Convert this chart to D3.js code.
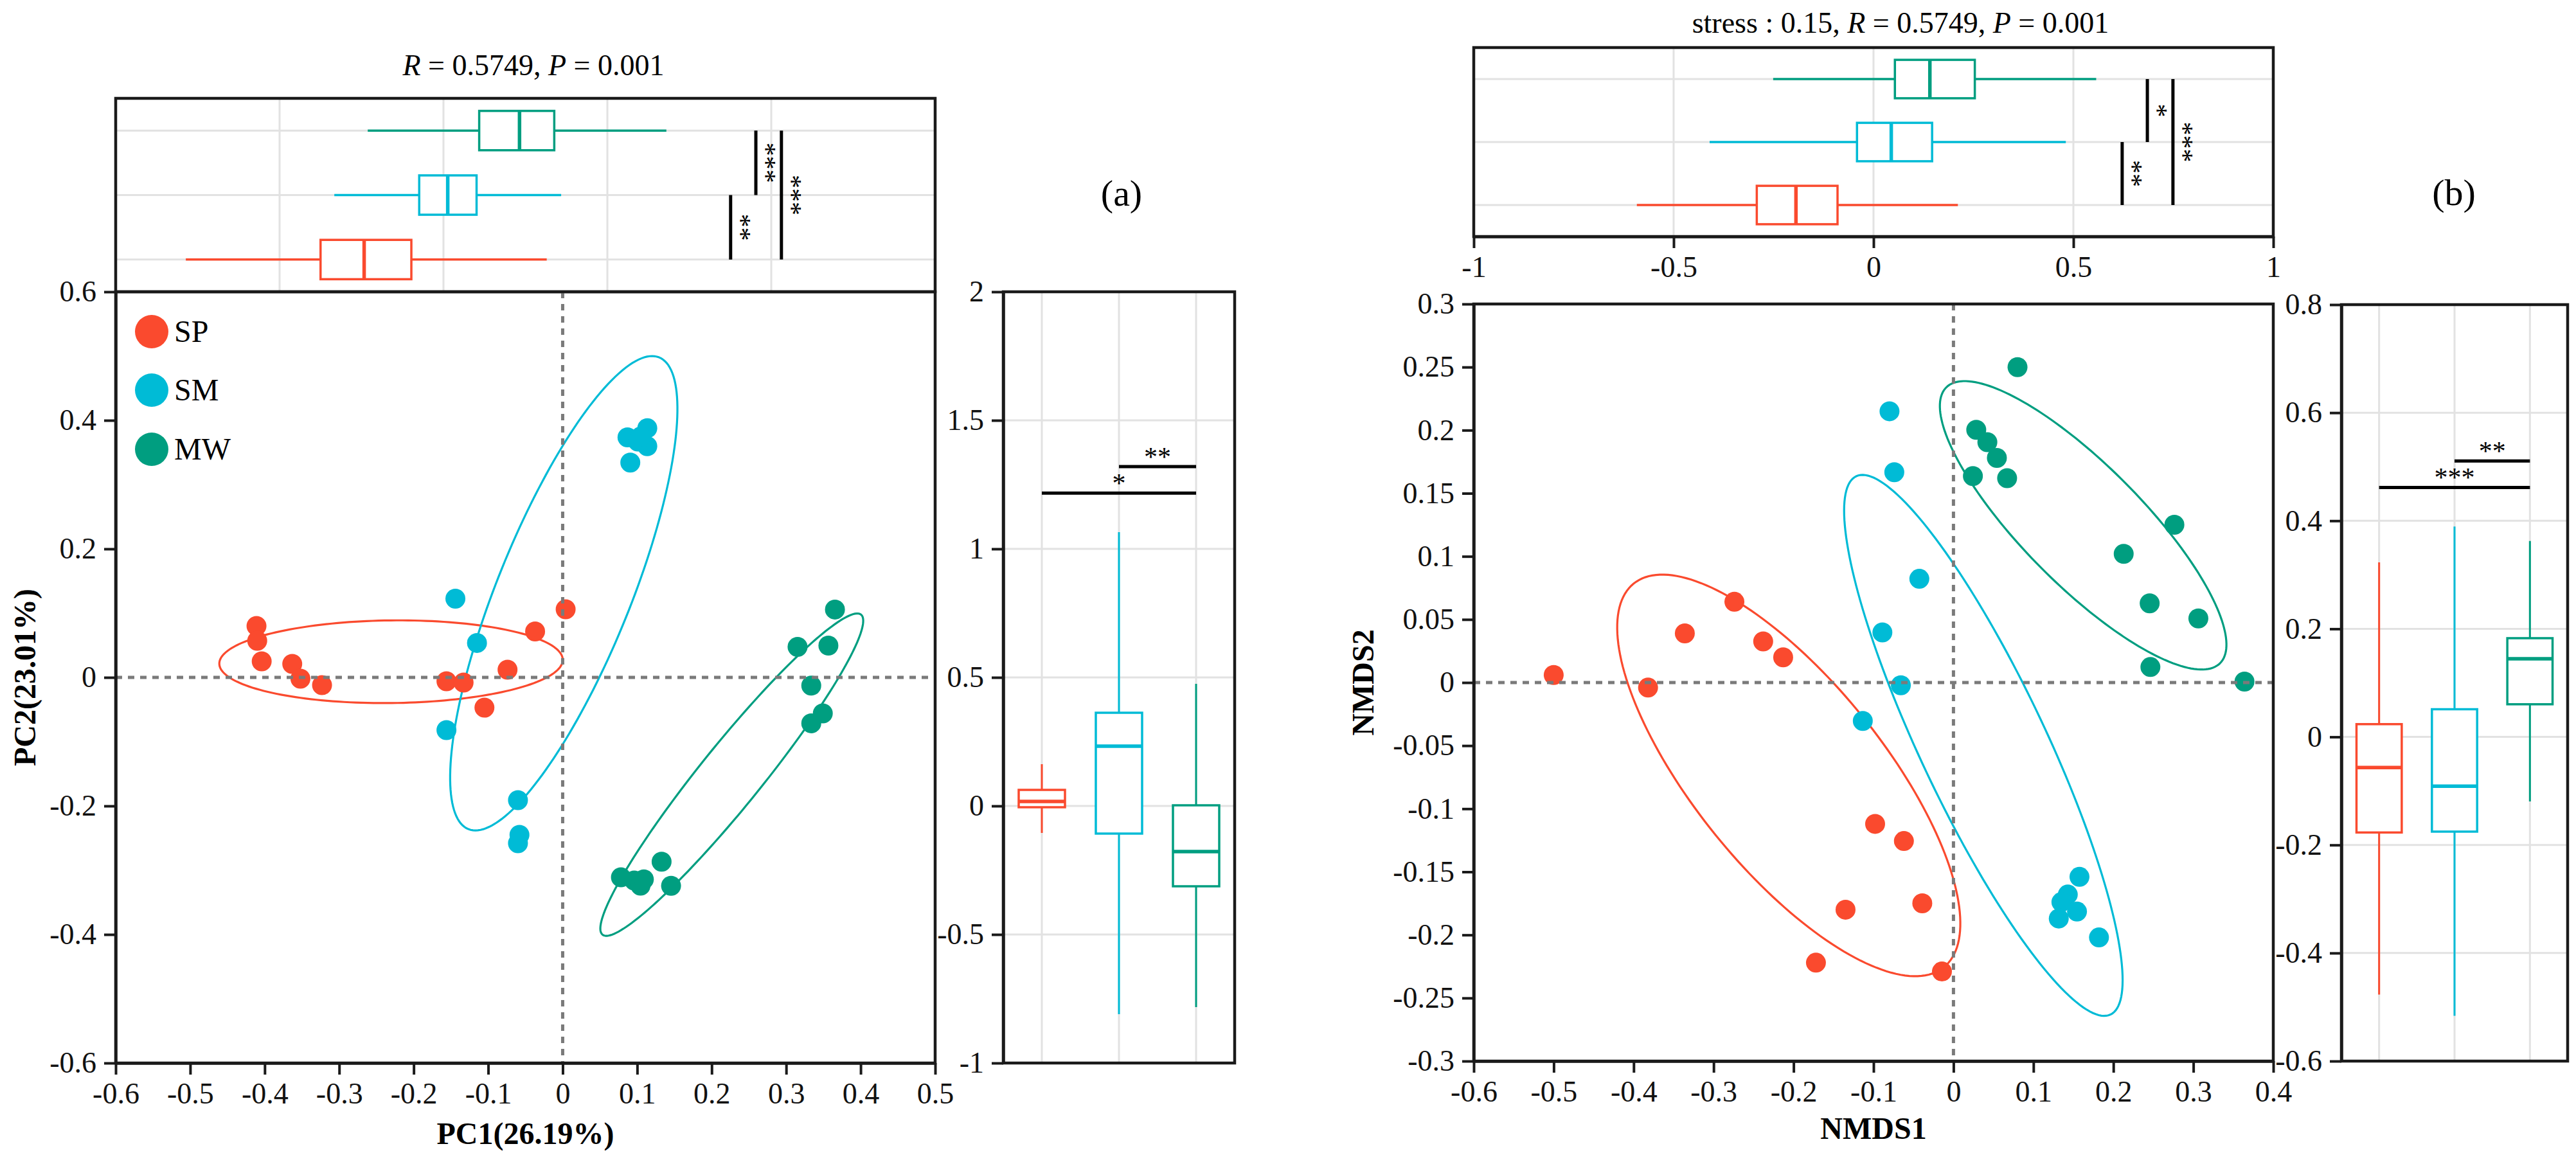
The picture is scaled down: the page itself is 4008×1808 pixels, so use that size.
<!DOCTYPE html>
<html><head><meta charset="utf-8">
<script src="https://cdn.jsdelivr.net/npm/d3@7"></script>
<style>body{margin:0;background:#fff} svg text{font-family:'Liberation Serif','Times New Roman',Times,serif}</style>
</head><body>
<svg id="chart" width="4008" height="1808"></svg>
<script>
// ---------------- DATA ----------------
const groups = ["SP", "SM", "MW"];
const groupColors = ["#FA4A2E", "#00BBD6", "#009E80"];
const rowOrder = ["MW", "SM", "SP"];

// Panel (a): PCoA scores
const pcoaSP = [[-0.411,0.080],[-0.410,0.057],[-0.404,0.025],[-0.363,0.021],[-0.352,-0.002],[-0.323,-0.012],[-0.156,-0.006],[-0.133,-0.008],[-0.105,-0.047],[-0.074,0.012],[-0.037,0.0715],[0.004,0.106]];
const pcoaSM = [[-0.144,0.1225],[-0.115,0.0536],[-0.156,-0.082],[-0.060,-0.191],[-0.058,-0.245],[-0.060,-0.258],[0.087,0.3735],[0.1136,0.3878],[0.1136,0.3597],[0.0908,0.3342],[0.101,0.367],[0.105,0.375]];
const pcoaMW = [[0.3655,0.1056],[0.3153,0.0475],[0.3567,0.0495],[0.3337,-0.0127],[0.3492,-0.056],[0.3337,-0.0714],[0.0782,-0.311],[0.096,-0.316],[0.1045,-0.324],[0.109,-0.3143],[0.1328,-0.2867],[0.1455,-0.3243]];
// ellipses: centre, two conjugate semi-axis vectors (data units)
const pcoaEllSP = {c:[-0.2304,0.0244], u:[0.2305,0.0031], v:[-0.0007,0.0643]};
const pcoaEllSM = {c:[0.0015,0.1309], u:[0.128,0.367], v:[0.083,-0.0388]};
const pcoaEllMW = {c:[0.227,-0.1513], u:[0.1735,0.249], v:[0.0321,-0.030]};
// box stats [min, q1, median, q3, max]
const pcoaTopSP = [-0.786,-0.375,-0.242,-0.098,0.315];
const pcoaTopSM = [-0.333,-0.074,0.013,0.101,0.359];
const pcoaTopMW = [-0.231,0.109,0.232,0.338,0.680];
const pcoaRightSP = [-0.105,-0.005,0.0175,0.0625,0.1625];
const pcoaRightSM = [-0.81,-0.1075,0.2325,0.3625,1.065];
const pcoaRightMW = [-0.7825,-0.3125,-0.1775,0.0025,0.475];
const pcoaTopSig = [["MW","SM",0.953,"***"],["SM","SP",0.876,"**"],["MW","SP",1.031,"***"]];
const pcoaRightSig = [["SM","MW",1.32,"**"],["SP","MW",1.217,"*"]];
const pcoaXTicks = [-0.6,-0.5,-0.4,-0.3,-0.2,-0.1,0,0.1,0.2,0.3,0.4,0.5];
const pcoaYTicks = [-0.6,-0.4,-0.2,0,0.2,0.4,0.6];
const pcoaTopGrid = [-0.5,0,0.5,1];
const pcoaRightTicks = [-1,-0.5,0,0.5,1,1.5,2];

// Panel (b): NMDS scores
const nmdsSP = [[-0.5,0.006],[-0.382,-0.004],[-0.336,0.039],[-0.274,0.064],[-0.238,0.0326],[-0.213,0.020],[-0.098,-0.112],[-0.062,-0.1256],[-0.135,-0.180],[-0.172,-0.222],[-0.039,-0.175],[-0.0144,-0.229]];
const nmdsSM = [[-0.080,0.215],[-0.074,0.1667],[-0.0427,0.0822],[-0.0889,0.0397],[-0.0658,-0.0022],[-0.1134,-0.0304],[0.1576,-0.154],[0.143,-0.168],[0.135,-0.174],[0.1545,-0.1815],[0.1317,-0.187],[0.182,-0.202]];
const nmdsMW = [[0.0801,0.250],[0.0285,0.2003],[0.0424,0.1905],[0.0543,0.178],[0.0243,0.1636],[0.0671,0.162],[0.2763,0.125],[0.2129,0.102],[0.2454,0.0628],[0.3063,0.0508],[0.2463,0.0123],[0.364,0.0008]];
const nmdsEllSP = {c:[-0.206,-0.0736], u:[0.194,-0.152], v:[-0.0917,-0.0471]};
const nmdsEllSM = {c:[0.0374,-0.0498], u:[0.159,-0.2133], v:[-0.0711,-0.0213]};
const nmdsEllMW = {c:[0.1622,0.1246], u:[0.1712,-0.1093], v:[-0.053,-0.0334]};
const nmdsTopSP = [-0.592,-0.292,-0.194,-0.09,0.211];
const nmdsTopSM = [-0.41,-0.0413,0.0444,0.1466,0.481];
const nmdsTopMW = [-0.251,0.0535,0.141,0.2534,0.557];
const nmdsRightSP = [-0.477,-0.1769,-0.0567,0.0236,0.3229];
const nmdsRightSM = [-0.516,-0.1753,-0.0912,0.0512,0.3894];
const nmdsRightMW = [-0.1195,0.0604,0.1445,0.1827,0.3626];
const nmdsTopSig = [["SM","SP",0.622,"**"],["MW","SM",0.685,"*"],["MW","SP",0.749,"***"]];
const nmdsRightSig = [["SM","MW",0.5107,"**"],["SP","MW",0.4617,"***"]];
const nmdsXTicks = [-0.6,-0.5,-0.4,-0.3,-0.2,-0.1,0,0.1,0.2,0.3,0.4];
const nmdsYTicks = [-0.3,-0.25,-0.2,-0.15,-0.1,-0.05,0,0.05,0.1,0.15,0.2,0.25,0.3];
const nmdsTopTicks = [-1,-0.5,0,0.5,1];
const nmdsTopGrid = [-0.5,0,0.5];
const nmdsRightTicks = [-0.6,-0.4,-0.2,0,0.2,0.4,0.6,0.8];

// ---------------- DRAWING ----------------
const FONT = "'Liberation Serif','Times New Roman',Times,serif";
const svg = d3.select("#chart");
const color = d3.scaleOrdinal().domain(groups).range(groupColors);
const fmt = d => String(+(+d).toFixed(2));
const INK = "#1a1a1a", GRID = "#e2e2e2";

function styleAxis(g){
  g.attr("font-family", FONT).attr("font-size", 46);
  g.select(".domain").attr("stroke", INK).attr("stroke-width", 4.5);
  g.selectAll(".tick line").attr("stroke", INK).attr("stroke-width", 4);
  g.selectAll(".tick text").attr("font-family", FONT).attr("font-size", 46).attr("fill", "#111");
}
function frame(x0,y0,x1,y1){
  svg.append("rect").attr("x",x0).attr("y",y0).attr("width",x1-x0).attr("height",y1-y0)
    .attr("fill","none").attr("stroke",INK).attr("stroke-width",4.5);
}
function ellipsePath(e, xs, ys){
  const pts = d3.range(0, 361, 2).map(a => {
    const t = a*Math.PI/180;
    return [xs(e.c[0] + e.u[0]*Math.cos(t) + e.v[0]*Math.sin(t)),
            ys(e.c[1] + e.u[1]*Math.cos(t) + e.v[1]*Math.sin(t))];
  });
  return d3.line().curve(d3.curveLinearClosed)(pts);
}
function hBox(g, s, yc, h, xs, col){
  g.append("line").attr("x1",xs(s[0])).attr("x2",xs(s[4])).attr("y1",yc).attr("y2",yc)
    .attr("stroke",col).attr("stroke-width",3.5);
  g.append("rect").attr("x",xs(s[1])).attr("width",xs(s[3])-xs(s[1])).attr("y",yc-h/2).attr("height",h)
    .attr("fill","#fff").attr("stroke",col).attr("stroke-width",3.5);
  g.append("line").attr("x1",xs(s[2])).attr("x2",xs(s[2])).attr("y1",yc-h/2).attr("y2",yc+h/2)
    .attr("stroke",col).attr("stroke-width",5.5);
}
function vBox(g, s, xc, w, ys, col){
  g.append("line").attr("y1",ys(s[0])).attr("y2",ys(s[4])).attr("x1",xc).attr("x2",xc)
    .attr("stroke",col).attr("stroke-width",3);
  g.append("rect").attr("y",ys(s[3])).attr("height",ys(s[1])-ys(s[3])).attr("x",xc-w/2).attr("width",w)
    .attr("fill","#fff").attr("stroke",col).attr("stroke-width",3.5);
  g.append("line").attr("y1",ys(s[2])).attr("y2",ys(s[2])).attr("x1",xc-w/2).attr("x2",xc+w/2)
    .attr("stroke",col).attr("stroke-width",5.5);
}
function topSig(g, sig, xs, rows){
  sig.forEach(([a,b,pos,lab]) => {
    const ya = rows(a)+rows.bandwidth()/2, yb = rows(b)+rows.bandwidth()/2, x = xs(pos);
    g.append("line").attr("x1",x).attr("x2",x).attr("y1",ya).attr("y2",yb).attr("stroke","#000").attr("stroke-width",5);
    g.append("text").attr("transform",`translate(${x+2},${(ya+yb)/2}) rotate(90)`)
      .attr("text-anchor","middle").attr("font-family",FONT).attr("font-size",42).text(lab);
  });
}
function rightSig(g, sig, xs, ys){
  sig.forEach(([a,b,val,lab]) => {
    const y = ys(val), x1 = xs(a), x2 = xs(b);
    g.append("line").attr("x1",x1).attr("x2",x2).attr("y1",y).attr("y2",y).attr("stroke","#000").attr("stroke-width",5);
    g.append("text").attr("x",(x1+x2)/2).attr("y",y-1).attr("text-anchor","middle")
      .attr("font-family",FONT).attr("font-size",42).text(lab);
  });
}
function dashed(x1,y1,x2,y2){
  svg.append("line").attr("x1",x1).attr("y1",y1).attr("x2",x2).attr("y2",y2)
    .attr("stroke","#7a7a7a").attr("stroke-width",5).attr("stroke-dasharray","10,9");
}
function panel(cfg){
  const {xs, ys, tx, rows, ry, rx, pts, ells, topStats, rightStats, topSigs, rightSigs,
         xTicks, yTicks, topGrid, topTicks, rightTicks, title, titleX, titleY, tag, tagX, tagY,
         xLabel, yLabel, xLabelY, yLabelX} = cfg;
  const g = svg.append("g");
  // --- top box panel
  const [tx0, tx1] = tx.range(), [ty0, ty1] = rows.range();
  topGrid.forEach(v => g.append("line").attr("x1",tx(v)).attr("x2",tx(v)).attr("y1",ty0).attr("y2",ty1).attr("stroke",GRID).attr("stroke-width",3));
  rowOrder.forEach(r => { const yc = rows(r)+rows.bandwidth()/2;
    g.append("line").attr("x1",tx0).attr("x2",tx1).attr("y1",yc).attr("y2",yc).attr("stroke",GRID).attr("stroke-width",3); });
  rowOrder.forEach(r => hBox(g, topStats[r], rows(r)+rows.bandwidth()/2, rows.bandwidth()*0.61, tx, color(r)));
  topSig(g, topSigs, tx, rows);
  frame(tx0, ty0, tx1, ty1);
  if (topTicks) {
    const ax = svg.append("g").attr("transform",`translate(0,${ty1})`)
      .call(d3.axisBottom(tx).tickValues(topTicks).tickFormat(fmt).tickSize(18).tickSizeOuter(0).tickPadding(12));
    styleAxis(ax);
  }
  // --- right box panel
  const [rx0, rx1] = [rx.range()[0], rx.range()[1]], [ry1, ry0] = ry.range();
  rightTicks.forEach(v => g.append("line").attr("x1",rx0).attr("x2",rx1).attr("y1",ry(v)).attr("y2",ry(v)).attr("stroke",GRID).attr("stroke-width",3));
  groups.forEach(gr => g.append("line").attr("x1",rx(gr)).attr("x2",rx(gr)).attr("y1",ry0).attr("y2",ry1).attr("stroke",GRID).attr("stroke-width",3));
  groups.forEach(gr => vBox(g, rightStats[gr], rx(gr), rx.step()*0.6, ry, color(gr)));
  rightSig(g, rightSigs, rx, ry);
  frame(rx0, ry0, rx1, ry1);
  const ayr = svg.append("g").attr("transform",`translate(${rx0},0)`)
    .call(d3.axisLeft(ry).tickValues(rightTicks).tickFormat(fmt).tickSize(18).tickSizeOuter(0).tickPadding(12));
  styleAxis(ayr);
  // --- scatter
  const [sx0, sx1] = xs.range(), [sy1, sy0] = ys.range();
  dashed(xs(0), sy0, xs(0), sy1);
  dashed(sx0, ys(0), sx1, ys(0));
  groups.forEach(gr => g.append("path").attr("d", ellipsePath(ells[gr], xs, ys))
    .attr("fill","none").attr("stroke",color(gr)).attr("stroke-width",3.2));
  groups.forEach(gr => g.selectAll(null).data(pts[gr]).enter().append("circle")
    .attr("cx", d => xs(d[0])).attr("cy", d => ys(d[1])).attr("r", 15.5).attr("fill", color(gr)));
  frame(sx0, sy0, sx1, sy1);
  const axx = svg.append("g").attr("transform",`translate(0,${sy1})`)
    .call(d3.axisBottom(xs).tickValues(xTicks).tickFormat(fmt).tickSize(18).tickSizeOuter(0).tickPadding(12));
  styleAxis(axx);
  const axy = svg.append("g").attr("transform",`translate(${sx0},0)`)
    .call(d3.axisLeft(ys).tickValues(yTicks).tickFormat(fmt).tickSize(18).tickSizeOuter(0).tickPadding(12));
  styleAxis(axy);
  // labels
  svg.append("text").attr("x",(sx0+sx1)/2).attr("y",xLabelY).attr("text-anchor","middle")
    .attr("font-family",FONT).attr("font-size",48).attr("font-weight","bold").text(xLabel);
  svg.append("text").attr("transform",`translate(${yLabelX},${(sy0+sy1)/2}) rotate(-90)`).attr("text-anchor","middle")
    .attr("font-family",FONT).attr("font-size",48).attr("font-weight","bold").text(yLabel);
  const tt = svg.append("text").attr("x",titleX).attr("y",titleY).attr("text-anchor","middle")
    .attr("font-family",FONT).attr("font-size",46);
  title.forEach(([s, it]) => tt.append("tspan").attr("font-style", it ? "italic" : "normal").text(s));
  svg.append("text").attr("x",tagX).attr("y",tagY).attr("text-anchor","middle").attr("dominant-baseline","central")
    .attr("font-family",FONT).attr("font-size",58).text(tag);
}

// Panel (a)
panel({
  xs: d3.scaleLinear().domain([-0.6,0.5]).range([180,1455]),
  ys: d3.scaleLinear().domain([-0.6,0.6]).range([1654,454]),
  tx: d3.scaleLinear().domain([-1,1.5]).range([180,1455]),
  rows: d3.scaleBand().domain(rowOrder).range([153,454]),
  ry: d3.scaleLinear().domain([-1,2]).range([1654,454]),
  rx: d3.scalePoint().domain(groups).range([1561,1921]).padding(0.5),
  pts: {SP:pcoaSP, SM:pcoaSM, MW:pcoaMW},
  ells: {SP:pcoaEllSP, SM:pcoaEllSM, MW:pcoaEllMW},
  topStats: {SP:pcoaTopSP, SM:pcoaTopSM, MW:pcoaTopMW},
  rightStats: {SP:pcoaRightSP, SM:pcoaRightSM, MW:pcoaRightMW},
  topSigs: pcoaTopSig, rightSigs: pcoaRightSig,
  xTicks: pcoaXTicks, yTicks: pcoaYTicks, topGrid: pcoaTopGrid, topTicks: null, rightTicks: pcoaRightTicks,
  title: [["R","it"],[" = 0.5749, ",0],["P","it"],[" = 0.001",0]], titleX: 830, titleY: 117,
  tag: "(a)", tagX: 1745, tagY: 300,
  xLabel: "PC1(26.19%)", yLabel: "PC2(23.01%)", xLabelY: 1780, yLabelX: 55
});
// Panel (b)
panel({
  xs: d3.scaleLinear().domain([-0.6,0.4]).range([2293,3537]),
  ys: d3.scaleLinear().domain([-0.3,0.3]).range([1651,473]),
  tx: d3.scaleLinear().domain([-1,1]).range([2293,3537]),
  rows: d3.scaleBand().domain(rowOrder).range([74,368]),
  ry: d3.scaleLinear().domain([-0.6,0.8]).range([1651,474]),
  rx: d3.scalePoint().domain(groups).range([3643,3995]).padding(0.5),
  pts: {SP:nmdsSP, SM:nmdsSM, MW:nmdsMW},
  ells: {SP:nmdsEllSP, SM:nmdsEllSM, MW:nmdsEllMW},
  topStats: {SP:nmdsTopSP, SM:nmdsTopSM, MW:nmdsTopMW},
  rightStats: {SP:nmdsRightSP, SM:nmdsRightSM, MW:nmdsRightMW},
  topSigs: nmdsTopSig, rightSigs: nmdsRightSig,
  xTicks: nmdsXTicks, yTicks: nmdsYTicks, topGrid: nmdsTopGrid, topTicks: nmdsTopTicks, rightTicks: nmdsRightTicks,
  title: [["stress : 0.15, ",0],["R","it"],[" = 0.5749, ",0],["P","it"],[" = 0.001",0]], titleX: 2957, titleY: 51,
  tag: "(b)", tagX: 3818, tagY: 299,
  xLabel: "NMDS1", yLabel: "NMDS2", xLabelY: 1772, yLabelX: 2137
});

// Legend (panel a)
const legendRows = [[516],[607],[699]];
groups.forEach((gr, i) => {
  svg.append("circle").attr("cx",236).attr("cy",legendRows[i][0]).attr("r",26).attr("fill",color(gr));
  svg.append("text").attr("x",271).attr("y",legendRows[i][0]+16).attr("font-family",FONT).attr("font-size",48).text(gr);
});
</script>
</body></html>
